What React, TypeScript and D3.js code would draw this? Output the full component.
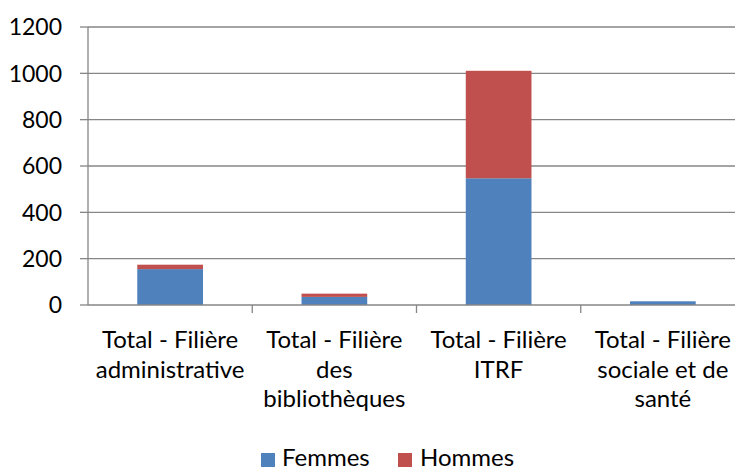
import React from "react";
import * as d3 from "d3";

const categories: string[][] = [
  ["Total - Filière", "administrative"],
  ["Total - Filière", "des", "bibliothèques"],
  ["Total - Filière", "ITRF"],
  ["Total - Filière", "sociale et de", "santé"],
];
const femmes: number[] = [155, 35, 547, 16];
const hommes: number[] = [19, 14, 464, 0];
const yTicks: number[] = [0, 200, 400, 600, 800, 1000, 1200];
const seriesNames: string[] = ["Femmes", "Hommes"];
const colors: string[] = ["#4F81BD", "#C0504D"];

const W = 735;
const H = 470;
const left = 88;
const right = 745;
const top = 27;
const bottom = 305;
const FONT = "Lato, 'Open Sans', sans-serif";
const FS_TICK = 23;
const FS = 24;

export default function App() {
  const idx = categories.map((_, i) => String(i));
  const x = d3.scaleBand<string>().domain(idx).range([left, right]).paddingInner(0.6).paddingOuter(0.3);
  const y = d3.scaleLinear().domain([0, 1200]).range([bottom, top]);
  const rows = categories.map((_, i) => ({ key: String(i), Femmes: femmes[i], Hommes: hommes[i] }));
  const stacked = d3.stack<any>().keys(seriesNames)(rows);
  const step = x.step();
  const grid = "#868686";

  return (
    <svg width={W} height={H} style={{ position: "absolute", left: 0, top: 0, background: "#fff" }}>
      <g>
        {yTicks.map((t) => (
          <g key={t}>
            {t > 0 && <line x1={left} x2={W} y1={y(t)} y2={y(t)} stroke={grid} strokeWidth={1.3} />}
            <line x1={left - 8} x2={left} y1={y(t)} y2={y(t)} stroke={grid} strokeWidth={1.3} />
            <text x={62} y={y(t)} dy="0.36em" textAnchor="end" fontFamily={FONT} fontSize={FS_TICK} fill="#000">
              {t}
            </text>
          </g>
        ))}
      </g>
      {stacked.map((s, si) => (
        <g key={s.key} fill={colors[si]}>
          {s.map((d, i) =>
            d[1] - d[0] > 0 ? (
              <rect key={i} x={x(String(i))} y={y(d[1])} width={x.bandwidth()} height={y(d[0]) - y(d[1])} />
            ) : null
          )}
        </g>
      ))}
      <line x1={left} x2={left} y1={top} y2={bottom} stroke={grid} strokeWidth={1.3} />
      <line x1={left} x2={W} y1={bottom} y2={bottom} stroke={grid} strokeWidth={1.3} />
      {d3.range(1, categories.length + 1).map((i) => (
        <line key={i} x1={left + i * step} x2={left + i * step} y1={bottom} y2={bottom + 8} stroke={grid} strokeWidth={1.3} />
      ))}
      {categories.map((lines, i) => (
        <text key={i} textAnchor="middle" fontFamily={FONT} fontSize={FS} fill="#000">
          {lines.map((l, j) => (
            <tspan key={j} x={(x(String(i)) as number) + x.bandwidth() / 2} y={348 + j * 29.5}>
              {l}
            </tspan>
          ))}
        </text>
      ))}
      <g>
        <rect x={261} y={453} width={14} height={14} fill={colors[0]} />
        <text x={282} y={466} fontFamily={FONT} fontSize={FS} fill="#000">{seriesNames[0]}</text>
        <rect x={398} y={453} width={14} height={14} fill={colors[1]} />
        <text x={420} y={466} fontFamily={FONT} fontSize={FS} fill="#000">{seriesNames[1]}</text>
      </g>
    </svg>
  );
}
